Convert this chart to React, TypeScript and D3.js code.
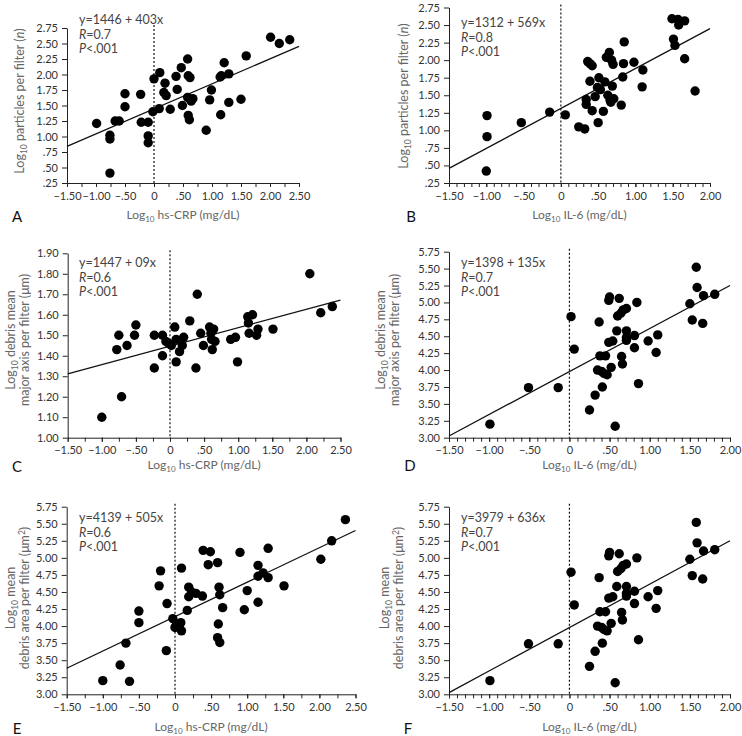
import { useRef, useEffect } from "react";
import * as d3 from "d3";

// points: [log10 marker, log10 outcome]
const ptsA: [number, number][] = [
  [-0.99, 1.21], [-0.76, 1.02], [-0.76, 0.96], [-0.76, 0.41], [-0.67, 1.25], [-0.6, 1.25],
  [-0.5, 1.69], [-0.5, 1.48], [-0.23, 1.68], [-0.22, 1.23], [-0.1, 1.23], [-0.1, 1.01],
  [-0.1, 0.9], [-0.02, 1.4], [0.0, 1.93], [0.09, 1.45], [0.1, 2.03], [0.19, 1.86],
  [0.17, 1.71], [0.21, 1.66], [0.28, 1.44], [0.38, 1.97], [0.4, 1.76], [0.47, 2.11],
  [0.49, 1.5], [0.58, 2.25], [0.58, 1.63], [0.59, 1.98], [0.62, 1.95], [0.59, 1.34],
  [0.61, 1.27], [0.64, 1.57], [0.67, 1.61], [0.9, 1.1], [0.96, 1.59], [0.99, 1.75],
  [1.14, 1.96], [1.16, 1.98], [1.15, 1.35], [1.21, 2.19], [1.29, 2.01], [1.29, 1.55],
  [1.5, 1.6], [1.59, 2.3], [2.01, 2.6], [2.16, 2.5], [2.34, 2.56],
];

const ptsB: [number, number][] = [
  [-0.99, 1.21], [-0.99, 0.91], [-1.0, 0.42], [-0.53, 1.11], [-0.15, 1.26], [0.06, 1.22],
  [0.24, 1.05], [0.32, 1.02], [0.34, 1.44], [0.34, 1.37], [0.36, 1.98], [0.39, 1.95],
  [0.42, 1.92], [0.39, 1.7], [0.42, 1.28], [0.46, 1.48], [0.49, 1.61], [0.51, 1.75],
  [0.5, 1.11], [0.53, 1.58], [0.57, 1.27], [0.59, 1.69], [0.61, 2.04], [0.65, 2.11],
  [0.63, 1.5], [0.66, 1.43], [0.67, 1.4], [0.69, 1.63], [0.68, 2.0], [0.7, 1.94],
  [0.71, 1.45], [0.81, 1.36], [0.83, 1.76], [0.84, 1.95], [0.85, 2.26], [0.98, 1.97],
  [1.09, 1.62], [1.1, 1.86], [1.49, 2.59], [1.51, 2.3], [1.53, 2.21], [1.57, 2.58],
  [1.58, 2.5], [1.66, 2.56], [1.66, 2.02], [1.8, 1.56],
];

const ptsC: [number, number][] = [
  [-1.0, 1.1], [-0.78, 1.43], [-0.75, 1.5], [-0.71, 1.2], [-0.63, 1.45], [-0.52, 1.5],
  [-0.5, 1.55], [-0.23, 1.5], [-0.23, 1.34], [-0.11, 1.5], [-0.11, 1.4], [-0.06, 1.47],
  [-0.02, 1.46], [0.02, 1.45], [0.07, 1.54], [0.09, 1.37], [0.09, 1.48], [0.14, 1.42],
  [0.18, 1.45], [0.2, 1.49], [0.29, 1.57], [0.38, 1.34], [0.4, 1.7], [0.45, 1.51],
  [0.49, 1.45], [0.58, 1.54], [0.6, 1.51], [0.61, 1.48], [0.64, 1.53], [0.62, 1.43],
  [0.66, 1.47], [0.89, 1.48], [0.96, 1.49], [0.99, 1.37], [1.14, 1.59], [1.15, 1.56],
  [1.16, 1.51], [1.21, 1.6], [1.27, 1.5], [1.29, 1.53], [1.51, 1.53], [2.05, 1.8],
  [2.21, 1.61], [2.38, 1.64],
];

const ptsD: [number, number][] = [
  [-0.99, 3.2], [-0.51, 3.74], [-0.14, 3.74], [0.02, 4.79], [0.06, 4.31], [0.25, 3.41],
  [0.32, 3.63], [0.35, 4.0], [0.37, 4.71], [0.38, 4.21], [0.4, 3.98], [0.41, 3.75],
  [0.43, 3.95], [0.45, 4.21], [0.47, 3.93], [0.49, 5.03], [0.5, 5.08], [0.49, 4.41],
  [0.52, 4.04], [0.54, 4.43], [0.57, 3.17], [0.59, 4.58], [0.6, 4.8], [0.62, 5.06],
  [0.64, 4.84], [0.65, 4.2], [0.66, 4.09], [0.67, 4.89], [0.71, 4.91], [0.71, 4.58],
  [0.71, 4.48], [0.71, 4.44], [0.81, 4.51], [0.81, 4.33], [0.84, 5.0], [0.86, 3.8],
  [0.98, 4.43], [1.08, 4.26], [1.1, 4.52], [1.5, 4.98], [1.53, 4.74], [1.58, 5.52],
  [1.59, 5.22], [1.66, 4.69], [1.67, 5.1], [1.81, 5.12],
];

const ptsE: [number, number][] = [
  [-1.0, 3.2], [-0.76, 3.43], [-0.68, 3.75], [-0.63, 3.19], [-0.5, 4.22], [-0.5, 4.05],
  [-0.22, 4.59], [-0.2, 4.81], [-0.11, 4.33], [-0.12, 3.64], [-0.03, 4.11], [0.0, 3.98],
  [0.02, 4.02], [0.08, 4.05], [0.09, 4.85], [0.09, 3.93], [0.06, 3.99], [0.17, 4.23],
  [0.19, 4.57], [0.19, 4.43], [0.23, 4.5], [0.29, 4.48], [0.38, 4.44], [0.39, 5.11],
  [0.46, 4.9], [0.49, 5.09], [0.59, 4.93], [0.6, 4.03], [0.59, 3.83], [0.62, 3.76],
  [0.61, 4.57], [0.62, 4.46], [0.66, 4.27], [0.9, 5.08], [0.96, 4.24], [1.0, 4.52],
  [1.15, 4.89], [1.15, 4.73], [1.15, 4.35], [1.22, 4.78], [1.29, 4.71], [1.29, 5.14],
  [1.51, 4.59], [2.02, 4.98], [2.17, 5.25], [2.36, 5.56],
];

const ptsF: [number, number][] = ptsD.map((d) => [d[0], d[1]]);

const crpTicks = [-1.5, -1, -0.5, 0, 0.5, 1, 1.5, 2, 2.5];
const il6Ticks = [-1.5, -1, -0.5, 0, 0.5, 1, 1.5, 2];
const countTicks = [0.25, 0.5, 0.75, 1, 1.25, 1.5, 1.75, 2, 2.25, 2.5, 2.75];
const axisTicks = [1.0, 1.1, 1.2, 1.3, 1.4, 1.5, 1.6, 1.7, 1.8, 1.9];
const sizeTicks = [3, 3.25, 3.5, 3.75, 4, 4.25, 4.5, 4.75, 5, 5.25, 5.5, 5.75];

const equations = ["y=1446 + 403x", "y=1312 + 569x", "y=1447 + 09x", "y=1398 + 135x", "y=4139 + 505x", "y=3979 + 636x"];
const rValues = ["0.7", "0.8", "0.6", "0.7", "0.6", "0.7"];
// fit lines as drawn: [intercept, slope]
const fits: [number, number][] = [[1.446, 0.403], [1.312, 0.569], [1.447, 0.09], [3.979, 0.636], [4.139, 0.505], [3.979, 0.636]];

type Panel = {
  letter: string;
  pts: [number, number][];
  xTicks: number[];
  minor: number;
  yTicks: number[];
  xr: [number, number];
  yr: [number, number];
  marker: string;
  yKind: "count" | "axis" | "area";
  eqPos: [number, number];
  yTitle: { x: number[]; y: number };
  xTitleY: number;
  letterPos: [number, number];
};

const panels: Panel[] = [
  { letter: "A", pts: ptsA, xTicks: crpTicks, minor: 0.25, yTicks: countTicks, xr: [67, 299], yr: [183, 28], marker: "hs-CRP", yKind: "count", eqPos: [79, 20], yTitle: { x: [20], y: 101 }, xTitleY: 215, letterPos: [17, 217] },
  { letter: "B", pts: ptsB, xTicks: il6Ticks, minor: 0.1, yTicks: countTicks, xr: [449, 710], yr: [183, 7.5], marker: "IL-6", yKind: "count", eqPos: [461, 23], yTitle: { x: [404], y: 96 }, xTitleY: 215, letterPos: [411, 217] },
  { letter: "C", pts: ptsC, xTicks: crpTicks, minor: 0.25, yTicks: axisTicks, xr: [67.7, 340.5], yr: [437.7, 253.3], marker: "hs-CRP", yKind: "axis", eqPos: [79, 263], yTitle: { x: [10.5, 24.5], y: 340 }, xTitleY: 465, letterPos: [17, 467] },
  { letter: "D", pts: ptsD, xTicks: il6Ticks, minor: 0.1, yTicks: sizeTicks, xr: [449, 730], yr: [437.7, 251.7], marker: "IL-6", yKind: "axis", eqPos: [461, 263], yTitle: { x: [381, 395], y: 340 }, xTitleY: 465, letterPos: [410, 466] },
  { letter: "E", pts: ptsE, xTicks: crpTicks, minor: 0.25, yTicks: sizeTicks, xr: [66.7, 355.5], yr: [694.3, 506.7], marker: "hs-CRP", yKind: "area", eqPos: [79, 518], yTitle: { x: [10.7, 25], y: 598 }, xTitleY: 727, letterPos: [17, 729] },
  { letter: "F", pts: ptsF, xTicks: il6Ticks, minor: 0.1, yTicks: sizeTicks, xr: [449, 730], yr: [694.3, 506.7], marker: "IL-6", yKind: "area", eqPos: [461, 518], yTitle: { x: [385, 399], y: 598 }, xTitleY: 727, letterPos: [408, 729] },
];

const FONT = "Lato, 'Open Sans', sans-serif";
const fmt = (v: number) => {
  if (Math.abs(v) < 1e-9) return "0";
  const s = Math.abs(v).toFixed(2);
  return (v < 0 ? "\u2212" : "") + (s.startsWith("0") ? s.slice(1) : s);
};

export default function App() {
  const svgRef = useRef<SVGSVGElement>(null);

  useEffect(() => {
    document.body.style.margin = "0";
    document.body.style.overflow = "hidden";
    if (!svgRef.current) return;
    const svg = d3.select(svgRef.current);
    svg.selectAll("*").remove();

    panels.forEach((p, i) => {
      const xMin = p.xTicks[0], xMax = p.xTicks[p.xTicks.length - 1];
      const yMin = p.yTicks[0], yMax = p.yTicks[p.yTicks.length - 1];
      const x = d3.scaleLinear().domain([xMin, xMax]).range(p.xr);
      const y = d3.scaleLinear().domain([yMin, yMax]).range(p.yr);
      const g = svg.append("g").attr("font-family", FONT);

      const nMinor = Math.round((xMax - xMin) / p.minor);
      const minorVals = d3.range(nMinor + 1).map((k) => +(xMin + k * p.minor).toFixed(3));

      const gx = g.append("g").attr("transform", `translate(0,${p.yr[0]})`);
      gx.call(d3.axisBottom(x).tickValues(minorVals).tickSize(4).tickSizeOuter(0).tickFormat(() => ""));
      gx.call((s) => s.selectAll(".tick text").remove());
      const gxl = g.append("g").attr("transform", `translate(0,${p.yr[0]})`);
      gxl.call(d3.axisBottom(x).tickValues(p.xTicks).tickSize(4).tickSizeOuter(0).tickPadding(5).tickFormat((d) => fmt(+d)));
      gxl.select(".domain").remove();
      [gx, gxl].forEach((s) => {
        s.selectAll("line").attr("stroke", "#222");
        s.select(".domain").attr("stroke", "#222");
        s.selectAll("text").attr("font-size", 11).attr("fill", "#333").attr("font-family", FONT);
      });

      const gy = g.append("g").attr("transform", `translate(${p.xr[0]},0)`);
      gy.call(d3.axisLeft(y).tickValues(p.yTicks).tickSize(5).tickSizeOuter(0).tickPadding(4).tickFormat((d) => fmt(+d)));
      gy.selectAll("line").attr("stroke", "#222");
      gy.select(".domain").attr("stroke", "#222");
      gy.selectAll("text").attr("font-size", 11).attr("fill", "#333").attr("font-family", FONT);

      // zero reference
      g.append("line").attr("x1", x(0)).attr("x2", x(0)).attr("y1", p.yr[1] - 3).attr("y2", p.yr[0])
        .attr("stroke", "#111").attr("stroke-width", 1.2).attr("stroke-dasharray", "2,2");

      const [b0, b1] = fits[i];
      const line = d3.line<number>().x((v) => x(v)).y((v) => y(b0 + b1 * v));
      g.append("path").datum([xMin, xMax]).attr("d", line).attr("fill", "none").attr("stroke", "#111").attr("stroke-width", 1.3);

      g.append("g").selectAll("circle").data(p.pts).join("circle")
        .attr("cx", (d) => x(d[0])).attr("cy", (d) => y(d[1])).attr("r", 4.7).attr("fill", "#000");

      // equation block
      const eq = g.append("g").attr("font-size", 12.5).attr("fill", "#444");
      eq.append("text").attr("x", p.eqPos[0]).attr("y", p.eqPos[1]).attr("dy", "0.35em").text(equations[i]);
      const r = eq.append("text").attr("x", p.eqPos[0]).attr("y", p.eqPos[1] + 14.5).attr("dy", "0.35em");
      r.append("tspan").attr("font-style", "italic").text("R");
      r.append("tspan").text("=" + rValues[i]);
      const pt = eq.append("text").attr("x", p.eqPos[0]).attr("y", p.eqPos[1] + 29).attr("dy", "0.35em");
      pt.append("tspan").attr("font-style", "italic").text("P");
      pt.append("tspan").text("<.001");

      // x title
      const xt = g.append("text").attr("x", (p.xr[0] + p.xr[1]) / 2).attr("y", p.xTitleY).attr("dy", "0.35em")
        .attr("text-anchor", "middle").attr("font-size", 12).attr("fill", "#666");
      xt.append("tspan").text("Log");
      xt.append("tspan").attr("font-size", 8).attr("dy", 3).text("10");
      xt.append("tspan").attr("dy", -3).text(` ${p.marker} (mg/dL)`);

      // y title
      const lines: { text: string; log: boolean; tail?: "n" | "um" | "um2" }[] =
        p.yKind === "count" ? [{ text: " particles per filter (", log: true, tail: "n" }]
        : p.yKind === "axis" ? [{ text: " debris mean", log: true }, { text: "major axis per filter (", log: false, tail: "um" }]
        : [{ text: " mean", log: true }, { text: "debris area per filter (", log: false, tail: "um2" }];
      lines.forEach((ln, k) => {
        const tx = p.yTitle.x[k];
        const t = g.append("text").attr("transform", `translate(${tx},${p.yTitle.y}) rotate(-90)`)
          .attr("dy", "0.35em").attr("text-anchor", "middle").attr("font-size", 12.5).attr("fill", "#666");
        if (ln.log) {
          t.append("tspan").text("Log");
          t.append("tspan").attr("font-size", 8.5).attr("dy", 3).text("10");
          t.append("tspan").attr("dy", -3).text(ln.text);
        } else {
          t.append("tspan").text(ln.text);
        }
        if (ln.tail === "n") {
          t.append("tspan").attr("font-style", "italic").text("n");
          t.append("tspan").text(")");
        } else if (ln.tail === "um") {
          t.append("tspan").text("\u03bcm)");
        } else if (ln.tail === "um2") {
          t.append("tspan").text("\u03bcm");
          t.append("tspan").attr("font-size", 8.5).attr("dy", -4).text("2");
          t.append("tspan").attr("dy", 4).text(")");
        }
      });

      g.append("text").attr("x", p.letterPos[0]).attr("y", p.letterPos[1]).attr("dy", "0.35em")
        .attr("text-anchor", "middle").attr("font-size", 15).attr("fill", "#111").text(p.letter);
    });
  }, []);

  return (
    <div style={{ position: "fixed", left: 0, top: 0 }}>
      <svg ref={svgRef} width={742} height={736} style={{ display: "block", background: "#fff" }} />
    </div>
  );
}
